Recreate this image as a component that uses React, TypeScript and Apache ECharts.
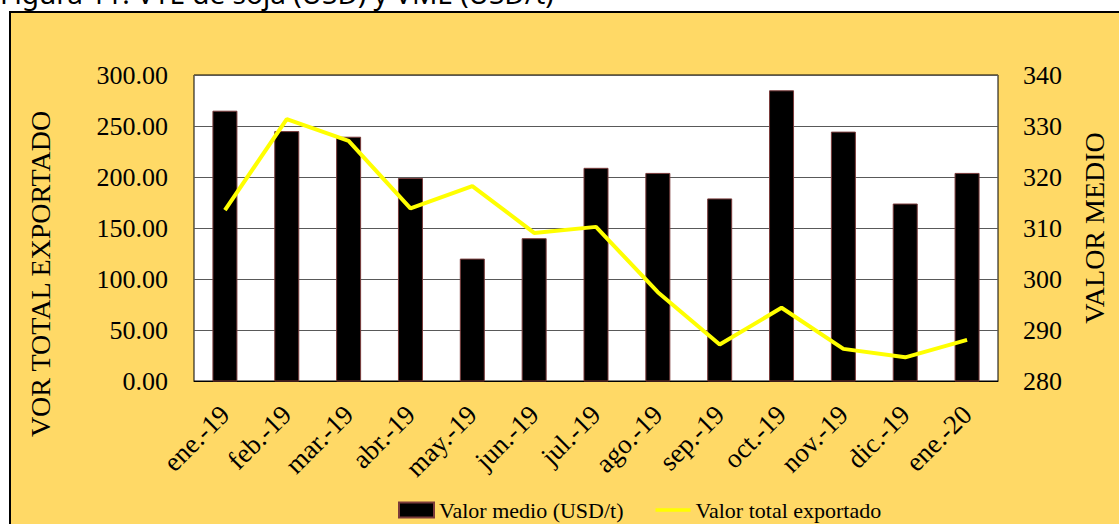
import React, { useEffect, useRef } from "react";
import * as echarts from "echarts";

const categories = [
  "ene.-19", "feb.-19", "mar.-19", "abr.-19", "may.-19", "jun.-19", "jul.-19",
  "ago.-19", "sep.-19", "oct.-19", "nov.-19", "dic.-19", "ene.-20",
];
// Valor medio (USD/t) – bars, right axis
const valorMedio = [333.0, 329.0, 327.9, 319.8, 304.0, 308.0, 321.8, 320.8, 315.8, 337.0, 328.9, 314.8, 320.8];
// Valor total exportado – line, left axis
const valorTotal = [167.5, 256.7, 235.4, 169.2, 191.1, 145.2, 151.1, 87.1, 35.7, 71.8, 31.5, 23.2, 40.3];

const leftTicks = { min: 0, max: 300, interval: 50 };
const rightTicks = { min: 280, max: 340, interval: 10 };

const SERIF = "'Liberation Serif', 'Times New Roman', serif";

export default function App() {
  const ref = useRef<HTMLDivElement>(null);
  useEffect(() => {
    if (!ref.current) return;
    const chart = echarts.init(ref.current, undefined, { renderer: "svg" });
    const legendText = { fontFamily: SERIF, fontSize: 22, color: "#000000" };
    chart.setOption({
      animation: false,
      backgroundColor: "#FFD966",
      graphic: [
        { type: "rect", shape: { x: 0, y: 0, width: 1119, height: 11 }, style: { fill: "#ffffff" }, silent: true },
        { type: "rect", shape: { x: 0, y: 0, width: 9, height: 524 }, style: { fill: "#ffffff" }, silent: true },
        {
          type: "polyline",
          shape: { points: [[10, 524], [10, 12], [1119, 12]] },
          style: { stroke: "#000000", lineWidth: 2, fill: "none" },
          silent: true,
        },
        {
          type: "text",
          x: 0,
          y: 7,
          style: {
            text: "Figura 11. VTE de soja (USD) y VME (USD/t)",
            font: "28px 'Noto Sans', sans-serif",
            fill: "#000000",
            verticalAlign: "bottom",
          },
          silent: true,
        },
        {
          type: "text",
          x: 40,
          y: 274,
          rotation: Math.PI / 2,
          style: {
            text: "VOR TOTAL EXPORTADO",
            font: "28px " + SERIF,
            fill: "#000000",
            align: "center",
            verticalAlign: "middle",
          },
          silent: true,
        },
      ],
      grid: {
        left: 194,
        right: 121,
        top: 75,
        bottom: 143,
        show: true,
        backgroundColor: "#ffffff",
        borderColor: "#000000",
        borderWidth: 1,
        containLabel: false,
      },
      legend: {
        left: 398,
        top: 499,
        padding: 0,
        itemWidth: 35,
        itemHeight: 15,
        itemGap: 32,
        textStyle: legendText,
        data: [
          { name: "Valor medio (USD/t)", icon: "rect", textStyle: legendText },
          { name: "Valor total exportado", icon: "path://M0,0 H38 V4 H0 Z", textStyle: legendText },
        ],
      },
      xAxis: {
        type: "category",
        data: categories,
        boundaryGap: true,
        axisLine: { show: true, lineStyle: { color: "#000000" } },
        axisTick: { show: false },
        axisLabel: {
          rotate: 45,
          interval: 0,
          margin: 29,
          fontFamily: SERIF,
          fontSize: 27,
          color: "#000000",
        },
      },
      yAxis: [
        {
          type: "value",
          min: leftTicks.min,
          max: leftTicks.max,
          interval: leftTicks.interval,
          position: "left",
          axisLine: { show: false },
          axisTick: { show: false },
          splitLine: { show: true, lineStyle: { color: "#595959", width: 1 } },
          axisLabel: {
            margin: 26,
            fontFamily: SERIF,
            fontSize: 26,
            color: "#000000",
            formatter: (v: number) => v.toFixed(2),
          },
        },
        {
          type: "value",
          min: rightTicks.min,
          max: rightTicks.max,
          interval: rightTicks.interval,
          position: "right",
          name: "VALOR MEDIO",
          nameLocation: "middle",
          nameGap: 82,
          nameRotate: 90,
          nameTextStyle: { fontFamily: SERIF, fontSize: 28, color: "#000000" },
          axisLine: { show: false },
          axisTick: { show: false },
          splitLine: { show: false },
          axisLabel: {
            margin: 25,
            fontFamily: SERIF,
            fontSize: 26,
            color: "#000000",
          },
        },
      ],
      series: [
        {
          name: "Valor medio (USD/t)",
          type: "bar",
          yAxisIndex: 1,
          data: valorMedio,
          barWidth: 25,
          clip: true,
          itemStyle: { color: "#000000", borderColor: "#7a3b3b", borderWidth: 1 },
        },
        {
          name: "Valor total exportado",
          type: "line",
          yAxisIndex: 0,
          data: valorTotal,
          symbol: "none",
          lineStyle: { color: "#FFFF00", width: 4 },
          itemStyle: { color: "#FFFF00" },
          z: 3,
        },
      ],
    });
    return () => chart.dispose();
  }, []);
  return (
    <div
      ref={ref}
      style={{ position: "fixed", left: 0, top: 0, width: 1119, height: 524 }}
    />
  );
}
